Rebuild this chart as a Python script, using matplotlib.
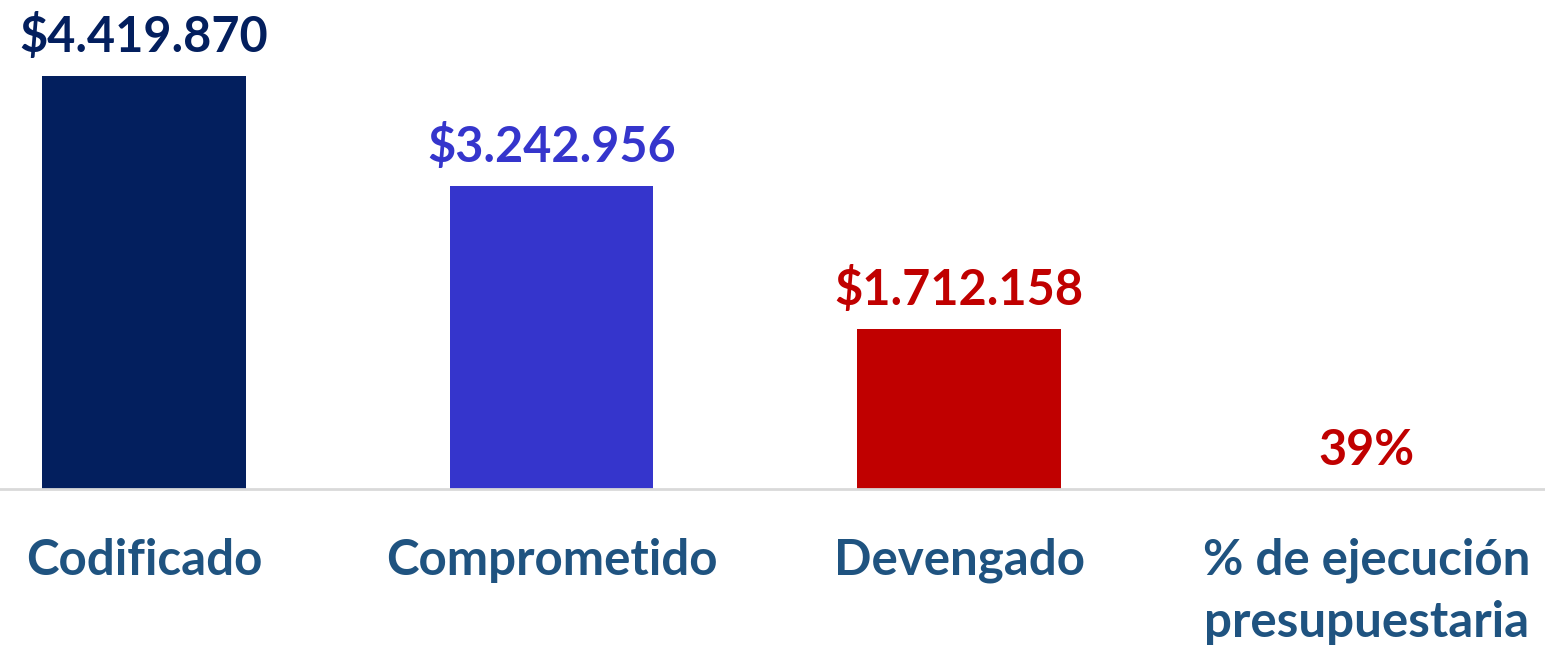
import matplotlib
matplotlib.use("Agg")
import matplotlib.pyplot as plt

categories = ["Codificado", "Comprometido", "Devengado", "% de ejecución\npresupuestaria"]
values = [4419870, 3242956, 1712158, 0.39]
labels = ["$4.419.870", "$3.242.956", "$1.712.158", "39%"]
bar_colors = ["#031F5E", "#3535CC", "#C00000", "#C00000"]
label_colors = ["#031F5E", "#3535CC", "#C00000", "#C00000"]

plt.rcParams['font.family'] = ['Lato', 'DejaVu Sans']

fig = plt.figure(figsize=(15.45, 6.52), dpi=100)
ax = fig.add_axes([0, 163/652, 1, 489/652])
x = list(range(len(categories)))
ax.bar(x, values, width=0.5, color=bar_colors)
ax.set_xlim(-144/407.5, -144/407.5 + 1545/407.5)
ymax = 4419870 * 489 / 413
ax.set_ylim(0, ymax)
for s in ["top", "right", "left"]:
    ax.spines[s].set_visible(False)
ax.spines["bottom"].set_color("#D9D9D9")
ax.spines["bottom"].set_linewidth(2)
ax.set_yticks([])
ax.set_xticks(x)
ax.set_xticklabels(categories, fontsize=35.5, fontweight='bold', color="#1F5380",
                   linespacing=1.46, va='top')
ax.tick_params(axis='x', length=0, pad=35)
for xi, v, lab, c in zip(x, values, labels, label_colors):
    ax.annotate(lab, (xi, v), xytext=(0, 16), textcoords='offset pixels',
                ha='center', va='bottom', fontsize=35, fontweight='bold', color=c)
fig.savefig("out.png", dpi=100)
